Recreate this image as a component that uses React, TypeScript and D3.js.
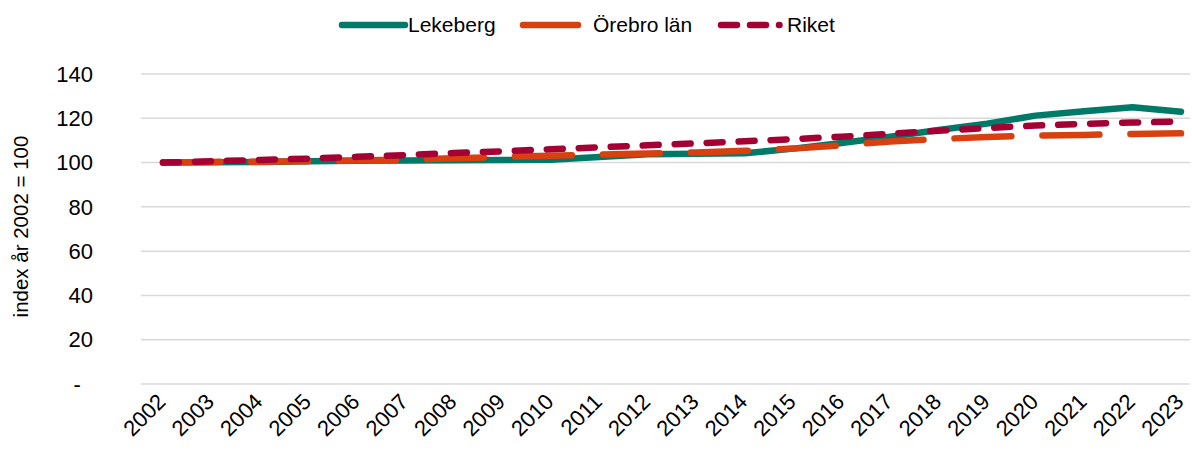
import React from "react";
import * as d3 from "d3";

const years = ["2002","2003","2004","2005","2006","2007","2008","2009","2010","2011","2012","2013","2014","2015","2016","2017","2018","2019","2020","2021","2022","2023"];
const lekeberg = [100,100.2,100.3,100.6,100.8,100.9,101,101.2,101.3,102.5,103.8,104,104.2,106.3,108.8,111.7,114.7,117.6,121.2,123.2,125,123];
const orebro = [100,100.3,100.4,100.6,100.9,101.3,101.9,102.6,103.1,103.6,104.1,104.6,105.3,106.3,107.8,109.5,110.6,111.6,112.2,112.5,112.9,113.2];
const riket = [100,100.6,101.2,101.8,102.6,103.4,104.3,105.1,106,106.9,107.8,108.7,109.6,110.6,111.7,113,114.4,115.6,116.7,117.5,118.1,118.5];
const yTicks = [0,20,40,60,80,100,120,140];
const seriesNames = ["Lekeberg","Örebro län","Riket"];
const colors = ["#007A68","#D8400F","#A50034"];
const dashes = ["none","57 31","16 16"];
const legendDashes = ["none","none","16 13"];
const seriesData = [lekeberg, orebro, riket];

const W = 1192, H = 453;
const FONT = "Liberation Sans, Arial, sans-serif";

export default function App() {
  const x = d3.scalePoint<string>().domain(years).range([163, 1181]).padding(0);
  const y = d3.scaleLinear().domain([0, 140]).range([384, 74]);
  const line = d3.line<number>().x((_, i) => x(years[i]) as number).y(d => y(d));
  const legendItems = [
    { x: 342, len: 63, tx: 408 },
    { x: 523, len: 55, tx: 593 },
    { x: 721, len: 58.5, tx: 787 },
  ];
  return (
    <svg width={W} height={H} style={{ position: "absolute", left: 0, top: 0, fontFamily: FONT }}>
      <rect width={W} height={H} fill="#fff" />
      {yTicks.map(t => (
        <g key={t}>
          <line x1={141} x2={1190} y1={y(t)} y2={y(t)} stroke="#d9d9d9" strokeWidth={1.5} />
          <text x={93} y={y(t)} dy="0.35em" textAnchor="end" fontSize={22} fill="#000" style={{ whiteSpace: "pre" }}>
            {t === 0 ? "-\u00a0\u00a0" : String(t)}
          </text>
        </g>
      ))}
      {years.map(yr => (
        <text key={yr} transform={`translate(${(x(yr) as number) + 4},${403}) rotate(-45)`} textAnchor="end" fontSize={22} fill="#000">{yr}</text>
      ))}
      <text transform={`translate(28,${(133 + 320) / 2}) rotate(-90)`} textAnchor="middle" fontSize={20.5} fill="#000">index år 2002 = 100</text>
      {seriesData.map((d, i) => (
        <path key={i} d={line(d) as string} fill="none" stroke={colors[i]} strokeWidth={6.5}
          strokeDasharray={dashes[i]} strokeLinecap="round" strokeLinejoin="round" />
      ))}
      {legendItems.map((it, i) => (
        <g key={i}>
          <line x1={it.x} x2={it.x + it.len} y1={25} y2={25} stroke={colors[i]} strokeWidth={6.5}
            strokeDasharray={legendDashes[i]} strokeLinecap="round" />
          <text x={it.tx} y={25} dy="0.35em" fontSize={21} fill="#000">{seriesNames[i]}</text>
        </g>
      ))}
    </svg>
  );
}
